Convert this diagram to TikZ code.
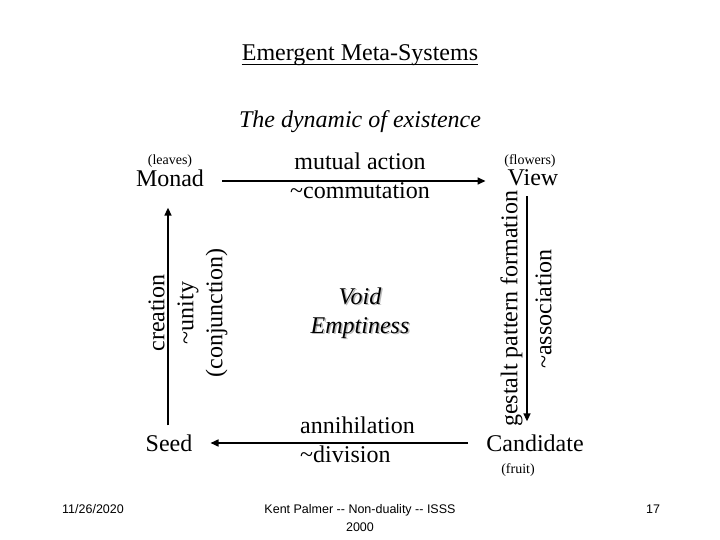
\documentclass[tikz,border=0pt]{standalone}
\usepackage{fontspec}
\setmainfont{Liberation Serif}
\newfontfamily\footfont{Liberation Sans}
\usetikzlibrary{arrows.meta,positioning}
\newcommand{\bigtxt}{\fontsize{24}{29}\selectfont}
\newcommand{\smalltxt}{\fontsize{14}{16}\selectfont}
\newcommand{\foottxt}{\footfont\fontsize{12.5}{18.5}\selectfont}

\begin{document}
\begin{tikzpicture}[x=1pt, y=-1pt,
    lbl/.style={font=\bigtxt, inner sep=3pt, align=center},
    tag/.style={font=\smalltxt, inner sep=1pt},
    foot/.style={font=\foottxt, align=center},
    arr/.style={-{Triangle[length=8pt,width=7pt]}, line width=1.6pt}
]
    \useasboundingbox (0,0) rectangle (720,540);

    % Titles
    \node[lbl, inner sep=0pt] (title) at (360,55) {Emergent Meta-Systems};
    \draw[line width=1.4pt] ([yshift=-4pt]title.base west) -- ([yshift=-4pt]title.base east);
    \node[lbl, font=\bigtxt\itshape] (sub) at (360,122) {The dynamic of existence};

    % Corner terms
    \node[lbl] (monad) at (170,178) {Monad};
    \node[lbl] (view) at (533,178) {View};
    \node[lbl] (seed) at (169,443) {Seed};
    \node[lbl] (cand) at (535,443) {Candidate};
    \node[tag, above=-2pt of monad] (leaves) {(leaves)};
    \node[tag, above=-2pt of view, xshift=-3pt] (flowers) {(flowers)};
    \node[tag, below=8pt of cand, xshift=-17pt] (fruit) {(fruit)};

    \draw[arr, shorten <=15pt, shorten >=19pt] ([yshift=-3pt]monad.east) -- ([yshift=-3pt]view.west);
    \draw[arr, shorten <=7pt, shorten >=10pt] ([xshift=-6pt]view.south) -- ([xshift=-8pt]cand.north);
    \draw[arr, shorten <=15pt, shorten >=15pt] (cand.west) -- (seed.east);
    \draw[arr, shorten <=6pt, shorten >=18pt] ([xshift=-1pt]seed.north) -- ([xshift=-2pt]monad.south);

    % Side labels
    \node[lbl] (mutual) at (360,176) {mutual action\\\textasciitilde commutation};
    \node[lbl, align=left, anchor=west] (annih) at (297,440) {annihilation\\\textasciitilde division};
    \node[lbl, rotate=90] (creation) at (188,313) {creation\\\textasciitilde unity\\(conjunction)};
    \node[lbl, rotate=90] (gestalt) at (526,309) {gestalt pattern formation\\[5pt]\textasciitilde association};

    % Centre
    \node[lbl, font=\bigtxt\itshape, text=gray!55] (voidshadow) at (361.5,314.5) {Void\\Emptiness};
    \node[lbl, font=\bigtxt\itshape] (void) at (360,313) {Void\\Emptiness};

    % Footer
    \node[foot] (date) at (93,509) {11/26/2020};
    \node[foot] (author) at (360,518) {Kent Palmer -{}- Non-duality -{}- ISSS\\2000};
    \node[foot] (page) at (653,509) {17};
\end{tikzpicture}
\end{document}
